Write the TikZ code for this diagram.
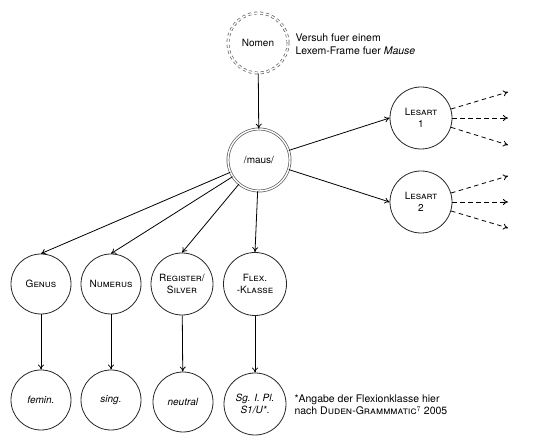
\documentclass[tikz,border=0pt]{standalone}
\usepackage{fontspec}
\setmainfont{TeX Gyre Heros}
\usetikzlibrary{arrows.meta}
\begin{document}
\begin{tikzpicture}[x=1pt,y=1pt,
  circ/.style={circle,draw=black!85,line width=0.8pt,minimum size=60pt,inner sep=0pt,align=center,font=\fontsize{10}{11.5}\selectfont},
  dbl/.style={circ,draw=black!65,double=white,double distance=1.4pt,line width=0.7pt},
  conn/.style={-{To[length=5pt,width=6pt]},line width=0.8pt},
  dconn/.style={-{To[length=5pt,width=6pt]},dashed,dash pattern=on 4.5pt off 3.5pt,line width=0.8pt},
  note/.style={anchor=west,align=left,font=\fontsize{10.5}{12.5}\selectfont}]
\useasboundingbox (0,0) rectangle (540,446);
\node[dbl,dashed,dash pattern=on 3pt off 3pt] (nomen) at (258,403) {Nomen};
\node[note] (nnote) at (292,402) {Versuh fuer einem\\Lexem-Frame fuer \textit{Mause}};
\node[dbl,minimum size=62pt] (maus) at (259,286) {/maus/};
\node[circ,minimum size=62pt] (l1) at (421,328) {\textsc{Lesart}\\\textsc{1}};
\node[circ,minimum size=62pt] (l2) at (421,244) {\textsc{Lesart}\\\textsc{2}};
\node[circ] (genus) at (41,162) {\textsc{Genus}};
\node[circ] (numerus) at (111,162) {\textsc{Numerus}};
\node[circ,minimum size=62pt] (register) at (182,162) {\textsc{Register/}\\\textsc{Silver}};
\node[circ,minimum size=63pt] (flex) at (255,162) {\textsc{Flex.}\\\textsc{-Klasse}};
\node[circ] (femin) at (41,46) {\textit{femin.}};
\node[circ] (sing) at (111,46) {\textit{sing.}};
\node[circ] (neutral) at (183,44) {\textit{neutral}};
\node[circ,minimum size=62pt] (sg) at (255,42) {\textit{Sg. I. Pl.}\\\textit{S1/U*}.};
\node[note] (fnote) at (291,41) {*Angabe der Flexionklasse hier\\nach \textsc{Duden-Grammmatic}$^{7}$ 2005};
\coordinate (a1) at (508,354);
\coordinate (a2) at (508,328);
\coordinate (a3) at (508,301);
\coordinate (b1) at (508,270);
\coordinate (b2) at (508,244);
\coordinate (b3) at (508,218);
\draw[conn] (nomen) -- (maus);
\draw[conn] (maus) -- (genus.north);
\draw[conn] (maus) -- (numerus.north);
\draw[conn] (maus) -- (register.north);
\draw[conn] (maus) -- (flex.north);
\draw[conn] (maus) -- (l1.west);
\draw[conn] (maus) -- (l2.west);
\draw[conn] (genus) -- (femin);
\draw[conn] (numerus) -- (sing);
\draw[conn] (register) -- (neutral);
\draw[conn] (flex) -- (sg);
\draw[dconn] (l1) -- (a1);
\draw[dconn] (l1) -- (a2);
\draw[dconn] (l1) -- (a3);
\draw[dconn] (l2) -- (b1);
\draw[dconn] (l2) -- (b2);
\draw[dconn] (l2) -- (b3);
\end{tikzpicture}
\end{document}
